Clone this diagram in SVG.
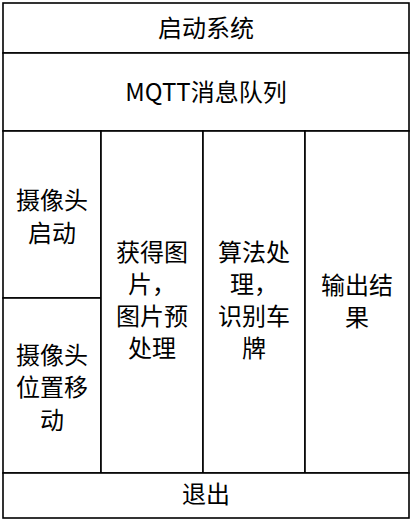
<svg xmlns="http://www.w3.org/2000/svg" width="413" height="521" viewBox="0 0 413 521">
<style>
rect{fill:#fff;stroke:#000;stroke-width:1.6}
text{font-family:"Noto Sans CJK SC","Noto Sans",sans-serif;font-size:24px;fill:#000;text-anchor:middle}
</style>
<rect x="0" y="0" width="413" height="521" style="stroke:none"/>
<g id="start"><rect x="3" y="3" width="406" height="50"/><text x="206" y="37">启动系统</text></g>
<g id="mqtt"><rect x="3" y="53" width="406" height="78"/><text x="206" y="101">MQTT消息队列</text></g>
<g id="cam-start"><rect x="3" y="131" width="98" height="167"/><text x="52"><tspan x="52" y="209">摄像头</tspan><tspan x="52" y="242">启动</tspan></text></g>
<g id="cam-move"><rect x="3" y="298" width="98" height="175"/><text x="52"><tspan x="52" y="364">摄像头</tspan><tspan x="52" y="396">位置移</tspan><tspan x="52" y="429">动</tspan></text></g>
<g id="get-image"><rect x="101" y="131" width="102" height="342"/><text x="152"><tspan x="152" y="261">获得图</tspan><tspan x="152" y="293">片，</tspan><tspan x="152" y="325">图片预</tspan><tspan x="152" y="357">处理</tspan></text></g>
<g id="recognize"><rect x="203" y="131" width="102" height="342"/><text x="254"><tspan x="254" y="261">算法处</tspan><tspan x="254" y="293">理，</tspan><tspan x="254" y="325">识别车</tspan><tspan x="254" y="357">牌</tspan></text></g>
<g id="output"><rect x="305" y="131" width="104" height="342"/><text x="357"><tspan x="357" y="294">输出结</tspan><tspan x="357" y="326">果</tspan></text></g>
<g id="exit"><rect x="3" y="473" width="406" height="45"/><text x="206" y="503">退出</text></g>
<g id="connectors"/>
</svg>
